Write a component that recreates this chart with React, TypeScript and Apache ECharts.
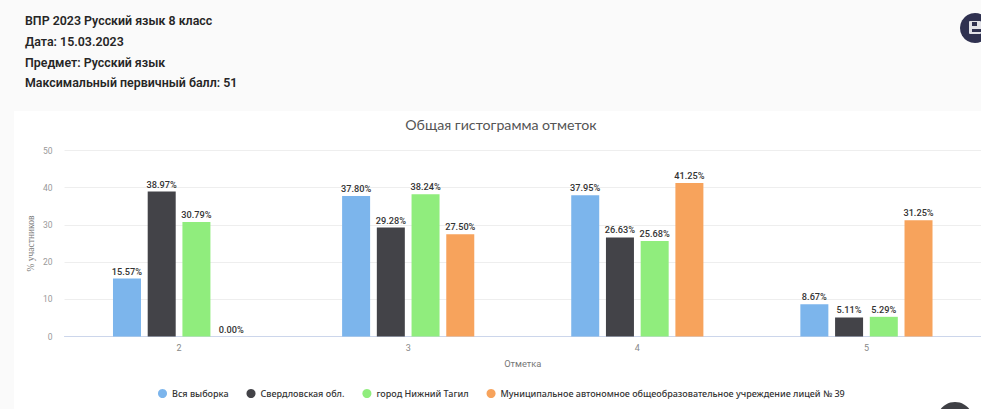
import React, { useEffect, useRef } from "react";
import * as echarts from "echarts";

const categories = ["2", "3", "4", "5"];
const allSample = [15.57, 37.8, 37.95, 8.67];
const sverdlovsk = [38.97, 29.28, 26.63, 5.11];
const tagil = [30.79, 38.24, 25.68, 5.29];
const lyceum = [0.0, 27.5, 41.25, 31.25];
const seriesNames = [
  "Вся выборка",
  "Свердловская обл.",
  "город Нижний Тагил",
  "Муниципальное автономное общеобразовательное учреждение лицей № 39",
];
const headerLines = [
  "ВПР 2023 Русский язык 8 класс",
  "Дата: 15.03.2023",
  "Предмет: Русский язык",
  "Максимальный первичный балл: 51",
];
const colors = ["#7cb5ec", "#434348", "#90ed7d", "#f7a35c"];

export default function App() {
  const ref = useRef<HTMLDivElement>(null);
  useEffect(() => {
    document.body.style.margin = "0";
    const chart = echarts.init(ref.current!, undefined, { renderer: "svg" });
    const data = [allSample, sverdlovsk, tagil, lyceum];
    chart.setOption({
      animation: false,
      backgroundColor: "#fafafa",
      title: {
        text: "Общая гистограмма отметок",
        left: 501,
        top: 117,
        textAlign: "center",
        textVerticalAlign: "top",
        textStyle: { fontFamily: "Lato", fontSize: 14.2, fontWeight: 400, color: "#555555" },
        padding: 0,
      },
      grid: { left: 64.5, right: -1, top: 150.5, height: 186 },
      xAxis: {
        type: "category",
        data: categories,
        name: "Отметка",
        nameLocation: "middle",
        nameGap: 22,
        nameTextStyle: { fontFamily: "Roboto", fontSize: 9.3, color: "#777" },
        axisLine: { lineStyle: { color: "#ccd6eb" } },
        axisTick: { show: false },
        axisLabel: { fontFamily: "Roboto", fontSize: 9, color: "#888", margin: 7 },
      },
      yAxis: {
        type: "value",
        min: 0,
        max: 50,
        interval: 10,
        name: "% участников",
        nameLocation: "middle",
        nameGap: 28.5,
        nameMoveOverlap: false,
        nameTextStyle: { fontFamily: "Liberation Serif", fontSize: 9.5, color: "#777" },
        axisLabel: { fontFamily: "Roboto", fontSize: 8.5, color: "#999", margin: 12 },
        splitLine: { lineStyle: { color: "#eeeeee" } },
      },
      legend: {
        left: 153,
        top: 384,
        icon: "circle",
        itemWidth: 9,
        itemHeight: 9,
        itemGap: 18,
        data: seriesNames,
        textStyle: { fontFamily: "Noto Sans", fontSize: 9, fontWeight: 500, color: "#333" },
      },
      series: seriesNames.map((name, i) => ({
        name,
        type: "bar",
        data: data[i],
        barWidth: 28,
        barGap: "24%",
        itemStyle: { color: colors[i] },
        label: {
          show: true,
          position: "top",
          distance: 3,
          formatter: (p: any) => p.value.toFixed(2) + "%",
          fontFamily: "Roboto",
          fontSize: 9.2,
          fontWeight: 500,
          color: "#333",
        },
      })),
      graphic: [
        { type: "rect", z: -10, silent: true, shape: { x: 14, y: 111, width: 967, height: 298 }, style: { fill: "#ffffff" } },
        ...headerLines.map((text, i) => ({
          type: "text",
          x: 25,
          y: 14.5 + i * 20.8,
          style: { text, fontFamily: "Roboto", fontSize: 12.4, fontWeight: 600, fill: "#262626" },
        })),
        { type: "circle", shape: { cx: 975, cy: 28, r: 15 }, style: { fill: "#2f3150" } },
        { type: "rect", shape: { x: 969, y: 21, width: 12, height: 13, r: 1 }, style: { fill: "#e2e2e8" } },
        { type: "rect", shape: { x: 972, y: 22, width: 5, height: 4 }, style: { fill: "#2f3150" } },
        { type: "rect", shape: { x: 972, y: 29, width: 9, height: 3 }, style: { fill: "#2f3150" } },
        { type: "circle", shape: { cx: 955, cy: 420, r: 18 }, style: { fill: "#3f4045" } },
      ],
    });
    return () => chart.dispose();
  }, []);
  return <div ref={ref} style={{ width: 981, height: 409 }} />;
}
